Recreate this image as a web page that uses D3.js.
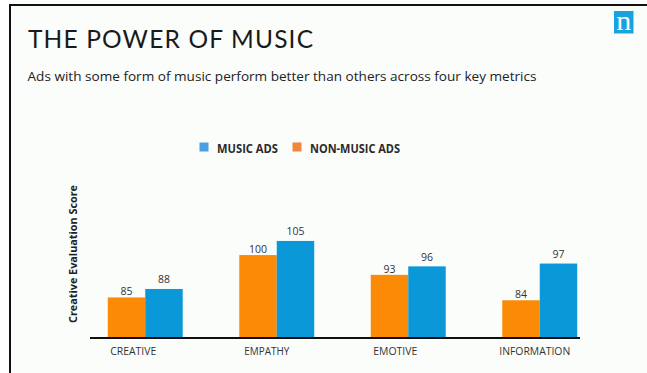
<!DOCTYPE html>
<html>
<head>
<meta charset="utf-8">
<script src="https://cdn.jsdelivr.net/npm/d3@7/dist/d3.min.js"></script>
<style>
  html, body { margin: 0; padding: 0; background: #ffffff; }
  svg { display: block; }
</style>
</head>
<body>
<svg id="chart" width="647" height="373"></svg>
<script>
// Creative evaluation scores by metric
const categories = ["CREATIVE", "EMPATHY", "EMOTIVE", "INFORMATION"];
const seriesNames = ["NON-MUSIC ADS", "MUSIC ADS"];
const nonMusicAds = [85, 100, 93, 84];
const musicAds = [88, 105, 96, 97];
const legendOrder = ["MUSIC ADS", "NON-MUSIC ADS"];

const colors = { "MUSIC ADS": "#0a98d8", "NON-MUSIC ADS": "#fb8a06" };
const legendColors = { "MUSIC ADS": "#4a9ee2", "NON-MUSIC ADS": "#f0863a" };

const svg = d3.select("#chart");
const W = 647, H = 373;

// slide frame
svg.append("rect").attr("x", 0).attr("y", 0).attr("width", W).attr("height", H).attr("fill", "#ffffff");
svg.append("rect").attr("x", 10).attr("y", 5).attr("width", W - 10).attr("height", H - 5).attr("fill", "#fbfdfb");
svg.append("line").attr("x1", 9).attr("x2", W).attr("y1", 5).attr("y2", 5)
  .attr("stroke", "#111").attr("stroke-width", 2);
svg.append("line").attr("x1", 10).attr("x2", 10).attr("y1", 4).attr("y2", H)
  .attr("stroke", "#111").attr("stroke-width", 2);

// logo
svg.append("rect").attr("x", 614).attr("y", 11).attr("width", 19.5).attr("height", 22.5).attr("fill", "#1aa1e0");
svg.append("text").attr("x", 623.8).attr("y", 30).attr("text-anchor", "middle")
  .attr("font-family", "Liberation Serif").attr("font-size", 28).attr("fill", "#ffffff")
  .attr("textLength", 15).attr("lengthAdjust", "spacingAndGlyphs")
  .text("n");

// title and subtitle
svg.append("text").attr("x", 28).attr("y", 47.5)
  .attr("font-family", "Lato").attr("font-weight", 400).attr("font-size", 24.5).attr("fill", "#1a1a1a")
  .attr("textLength", 285).attr("lengthAdjust", "spacing")
  .text("THE POWER OF MUSIC");
svg.append("text").attr("x", 27.5).attr("y", 81)
  .attr("font-family", "Open Sans").attr("font-size", 12.5).attr("fill", "#222")
  .attr("textLength", 509).attr("lengthAdjust", "spacingAndGlyphs")
  .text("Ads with some form of music perform better than others across four key metrics");

// legend
const legendX = { "MUSIC ADS": 199.5, "NON-MUSIC ADS": 292.5 };
const legendW = { "MUSIC ADS": 61, "NON-MUSIC ADS": 90 };
const lg = svg.append("g");
legendOrder.forEach(name => {
  lg.append("rect").attr("x", legendX[name]).attr("y", 142.5).attr("width", 9).attr("height", 9)
    .attr("fill", legendColors[name]);
  lg.append("text").attr("x", legendX[name] + 17.5).attr("y", 153)
    .attr("font-family", "Open Sans").attr("font-weight", 700).attr("font-size", 12)
    .attr("fill", "#2a2a2a")
    .attr("textLength", legendW[name]).attr("lengthAdjust", "spacingAndGlyphs")
    .text(name);
});

// scales
const baseY = 337;
const x0 = d3.scaleBand().domain(categories).range([79.5, 605.5]).paddingInner(0.43).paddingOuter(0.215);
const x1 = d3.scaleBand().domain(seriesNames).range([0, x0.bandwidth()]);
const y = d3.scaleLinear().domain([71, 110]).range([baseY, baseY - 39 * 2.825]);

const rows = categories.map((c, i) => ({
  cat: c,
  values: [
    { key: "NON-MUSIC ADS", v: nonMusicAds[i] },
    { key: "MUSIC ADS", v: musicAds[i] }
  ]
}));

const groups = svg.append("g").selectAll("g").data(rows).join("g")
  .attr("transform", d => `translate(${x0(d.cat)},0)`);

groups.selectAll("rect").data(d => d.values).join("rect")
  .attr("x", d => x1(d.key))
  .attr("width", x1.bandwidth())
  .attr("y", d => y(d.v))
  .attr("height", d => baseY - y(d.v))
  .attr("fill", d => colors[d.key]);

groups.selectAll("text").data(d => d.values).join("text")
  .attr("x", d => x1(d.key) + x1.bandwidth() / 2)
  .attr("y", d => y(d.v) - (d.key === "MUSIC ADS" ? 5.5 : 2))
  .attr("text-anchor", "middle")
  .attr("font-family", "Open Sans").attr("font-size", 10.5).attr("fill", "#333")
  .text(d => d.v);

// baseline
svg.append("line").attr("x1", 90).attr("x2", 580).attr("y1", baseY + 1).attr("y2", baseY + 1)
  .attr("stroke", "#111").attr("stroke-width", 2.2);

// category labels
const labelW = { "CREATIVE": 46, "EMPATHY": 45, "EMOTIVE": 44, "INFORMATION": 71 };
const labelShift = { "CREATIVE": -12, "EMPATHY": -10, "EMOTIVE": -13, "INFORMATION": -5 };
svg.append("g").selectAll("text").data(categories).join("text")
  .attr("x", d => x0(d) + x0.bandwidth() / 2 + labelShift[d])
  .attr("y", 354.5)
  .attr("text-anchor", "middle")
  .attr("font-family", "Open Sans").attr("font-size", 10.5).attr("fill", "#333")
  .attr("textLength", d => labelW[d]).attr("lengthAdjust", "spacingAndGlyphs")
  .text(d => d);

// y axis title
svg.append("text")
  .attr("transform", "translate(77,254) rotate(-90)")
  .attr("text-anchor", "middle")
  .attr("font-family", "Open Sans").attr("font-weight", 700).attr("font-size", 10)
  .attr("fill", "#222")
  .attr("textLength", 138).attr("lengthAdjust", "spacingAndGlyphs")
  .text("Creative Evaluation Score");
</script>
</body>
</html>
